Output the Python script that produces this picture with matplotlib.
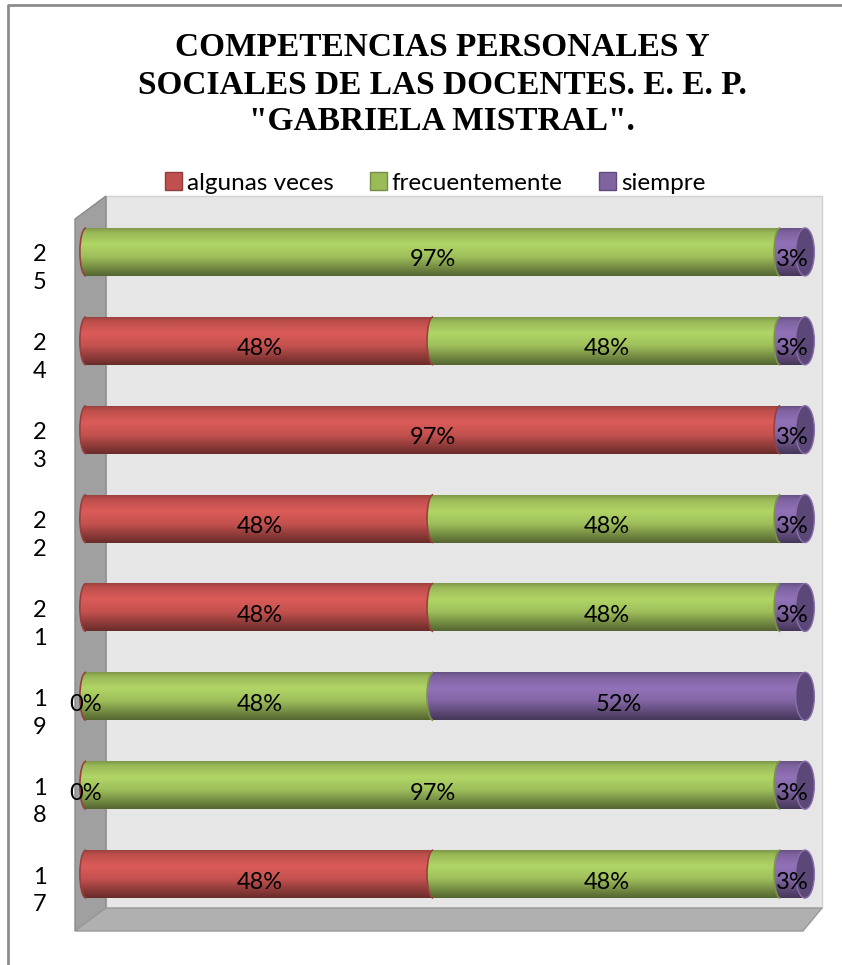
import matplotlib.pyplot as plt
import numpy as np
from matplotlib.colors import to_rgb
from matplotlib.patches import Ellipse, Arc, Polygon, Patch

# ---------------------------------------------------------------
# data (porcentajes por item)
# ---------------------------------------------------------------
categories = ['17', '18', '19', '21', '22', '23', '24', '25']
algunas_veces = [48.28, 0, 0, 48.28, 48.28, 96.55, 48.28, 0]
frecuentemente = [48.28, 96.55, 48.28, 48.28, 48.28, 0, 48.28, 96.55]
siempre = [3.45, 3.45, 51.72, 3.45, 3.45, 3.45, 3.45, 3.45]
series_names = ['algunas veces', 'frecuentemente', 'siempre']
zero_labels = {'18', '19'}   # filas donde Excel muestra "0%"

colors = ['#C0504D', '#9BBB59', '#8064A2']
W, H = 842, 965

fig = plt.figure(figsize=(W / 100, H / 100), dpi=100)

# fondo en pixeles (paredes 3D, marco)
bg = fig.add_axes([0, 0, 1, 1])
bg.set_xlim(0, W)
bg.set_ylim(H, 0)
bg.axis('off')
bg.plot([8, 8, W], [H, 5, 5], color='#8C8C8C', lw=2)
bg.add_patch(Polygon([(106, 196), (822, 196), (822, 908), (106, 908)],
                     closed=True, fc='#E6E6E6', ec='#D0D0D0', lw=1))
bg.add_patch(Polygon([(75, 219), (106, 196), (106, 908), (75, 931)],
                     closed=True, fc='#A0A0A0', ec='#8A8A8A', lw=1))
bg.add_patch(Polygon([(75, 931), (106, 908), (822, 908), (803, 931)],
                     closed=True, fc='#B0B0B0', ec='#9A9A9A', lw=1))

# plano frontal de las barras (x: -2..102 -> 7.19 px por unidad, 0 en x=86px)
px = 7.19
xmin, xmax = -2, 102
ax = fig.add_axes([(86 + xmin * px) / W, 1 - 918.5 / H, (xmax - xmin) * px / W, 711 / H])
ax.set_facecolor('none')
ax.axis('off')

bar_h = 0.54
cap_w = 1.7      # ancho de la elipse del extremo (unidades de x)


def cylinder(hexcol, n=60):
    base = np.array(to_rgb(hexcol))
    t = np.linspace(0, 1, n)
    f = np.interp(t, [0, 0.08, 0.33, 0.6, 0.85, 1], [0.82, 0.98, 1.14, 1.02, 0.72, 0.55])
    arr = np.clip(base[None, :] * f[:, None], 0, 1)
    return arr[:, None, :]


def darker(hexcol, k=0.7):
    return tuple(np.array(to_rgb(hexcol)) * k)


data = [algunas_veces, frecuentemente, siempre]
for i, cat in enumerate(categories):
    vals = [d[i] for d in data]
    left = 0
    prev = 0
    for j, v in enumerate(vals):
        if v > 0:
            ax.imshow(cylinder(colors[j]), extent=(left, left + v, i - bar_h / 2, i + bar_h / 2),
                      aspect='auto', interpolation='bilinear', zorder=2 + j)
            # extremo izquierdo redondeado de cada tramo
            ell = Ellipse((left, i), cap_w, bar_h, transform=ax.transData)
            im = ax.imshow(cylinder(colors[j]), extent=(left - cap_w / 2, left + cap_w / 2,
                                                         i - bar_h / 2, i + bar_h / 2),
                           aspect='auto', interpolation='bilinear', zorder=2 + j)
            im.set_clip_path(ell)
            ax.add_patch(Arc((left, i), cap_w, bar_h, theta1=90, theta2=270,
                             color=darker(colors[prev], 0.8), lw=1.2, zorder=2 + j))
            prev = j
        if v > 0 or (j == 0 and cat in zero_labels):
            ax.text(left + v / 2, i - 0.09, f'{round(v)}%', ha='center', va='center',
                    fontsize=17, family='Lato', color='black', zorder=10, clip_on=False)
        left += v
    # tapa derecha
    ax.add_patch(Ellipse((100, i), 2.6, bar_h, fc='#5B4878', ec='#8A70AA', lw=1, zorder=8))
    ax.text(-6.4, i - 0.19, cat[0] + '\n' + cat[1], ha='center', va='center',
            fontsize=17, family='Lato', linespacing=1.4, clip_on=False)

ax.set_xlim(xmin, xmax)
ax.set_ylim(-0.5, len(categories) - 0.5)

fig.text(442 / W, 1 - 85 / H,
         'COMPETENCIAS PERSONALES Y\nSOCIALES DE LAS DOCENTES. E. E. P.\n"GABRIELA MISTRAL".',
         ha='center', va='center', fontsize=24, family='Liberation Serif',
         fontweight='bold', linespacing=1.25)

handles = [Patch(fc=c, ec=darker(c, 0.75)) for c in colors]
fig.legend(handles, series_names, loc='center', bbox_to_anchor=(435 / W, 1 - 183 / H),
           ncol=3, frameon=False, prop={'family': 'Lato', 'size': 17.5},
           handlelength=0.7, handleheight=0.7, handletextpad=0.2, columnspacing=1.5)

fig.savefig('out.png', dpi=100)
